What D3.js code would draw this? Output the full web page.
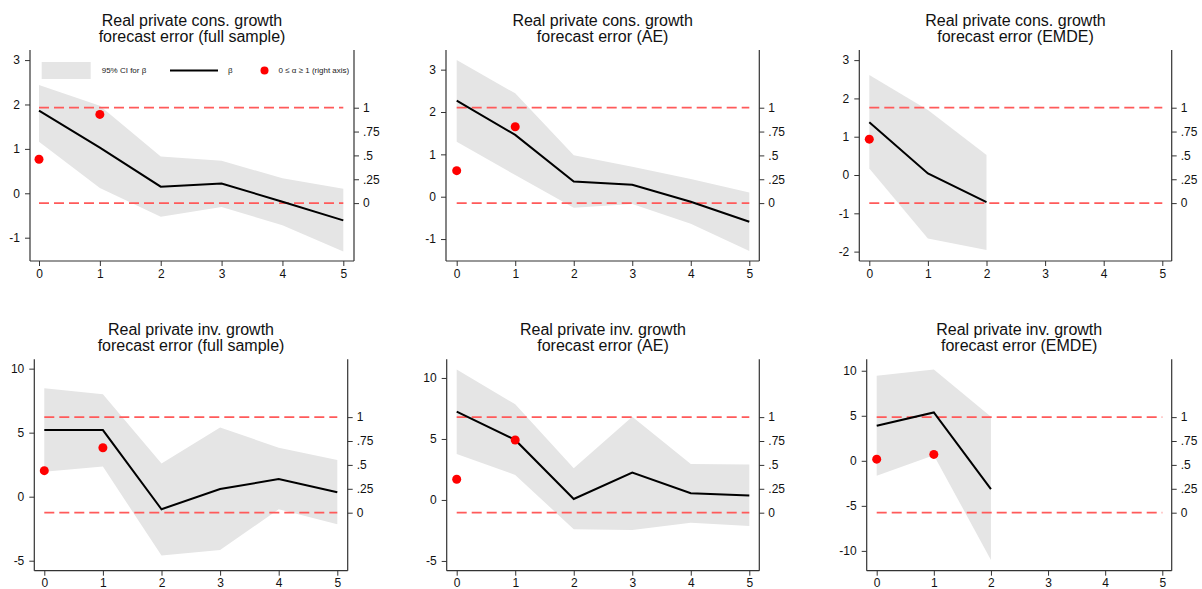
<!DOCTYPE html>
<html><head><meta charset="utf-8">
<script src="https://cdn.jsdelivr.net/npm/d3@7"></script>
<style>body{margin:0;background:#fff;}svg{display:block;font-family:"Liberation Sans",Arial,sans-serif;}</style>
</head><body>
<svg id="c" width="1202" height="589"></svg>
<script>
// ---- data ----
const horizons = [0,1,2,3,4,5];
const titles = [
  ["Real private cons. growth","forecast error (full sample)"],
  ["Real private cons. growth","forecast error (AE)"],
  ["Real private cons. growth","forecast error (EMDE)"],
  ["Real private inv. growth","forecast error (full sample)"],
  ["Real private inv. growth","forecast error (AE)"],
  ["Real private inv. growth","forecast error (EMDE)"]
];
// beta estimates
const consFullBeta = [1.86, 1.03, 0.15, 0.22, -0.19, -0.61];
const consAEBeta   = [2.27, 1.46, 0.36, 0.28, -0.12, -0.59];
const consEMDEBeta = [1.38, 0.04, -0.71];
const invFullBeta  = [5.21, 5.20, -0.98, 0.60, 1.38, 0.34];
const invAEBeta    = [7.24, 4.92, 0.08, 2.24, 0.55, 0.36];
const invEMDEBeta  = [3.89, 5.37, -3.15];
// 95% CI upper bounds
const consFullUpper = [2.44, 1.97, 0.83, 0.73, 0.34, 0.10];
const consAEUpper   = [3.23, 2.44, 0.98, 0.71, 0.42, 0.10];
const consEMDEUpper = [2.61, 1.70, 0.52];
const invFullUpper  = [8.47, 8.00, 2.60, 5.40, 3.83, 2.87];
const invAEUpper    = [10.7, 7.84, 2.60, 6.83, 2.95, 2.90];
const invEMDEUpper  = [9.44, 10.15, 4.89];
// 95% CI lower bounds
const consFullLower = [1.16, 0.12, -0.53, -0.31, -0.72, -1.31];
const consAELower   = [1.30, 0.51, -0.26, -0.17, -0.64, -1.28];
const consEMDELower = [0.17, -1.66, -1.96];
const invFullLower  = [1.95, 2.35, -4.60, -4.16, -0.98, -2.16];
const invAELower    = [3.77, 2.05, -2.40, -2.46, -1.86, -2.13];
const invEMDELower  = [-1.67, 0.63, -11.0];
// alpha (right axis)
const consFullAlpha = [0.46, 0.93];
const consAEAlpha   = [0.34, 0.80];
const consEMDEAlpha = [0.67];
const invFullAlpha  = [0.44, 0.68];
const invAEAlpha    = [0.35, 0.76];
const invEMDEAlpha  = [0.56, 0.61];
// tick values
const leftTicks = [[-1,0,1,2,3],[-1,0,1,2,3],[-2,-1,0,1,2,3],[-5,0,5,10],[-5,0,5,10],[-10,-5,0,5,10]];
const leftDomains = [[-1.525,3.227],[-1.518,3.464],[-2.245,3.264],[-5.78,10.73],[-5.80,11.53],[-12.2,11.27]];
const rightTicks = [0,0.25,0.5,0.75,1];
const rightTickLabels = ["0",".25",".5",".75","1"];
const rightDomain = [-0.607,1.605];
const refLines = [0,1];
const legendLabels = ["95% CI for β","β","0 ≤ α ≥ 1 (right axis)"];

const betas = [consFullBeta,consAEBeta,consEMDEBeta,invFullBeta,invAEBeta,invEMDEBeta];
const uppers = [consFullUpper,consAEUpper,consEMDEUpper,invFullUpper,invAEUpper,invEMDEUpper];
const lowers = [consFullLower,consAELower,consEMDELower,invFullLower,invAELower,invEMDELower];
const alphas = [consFullAlpha,consAEAlpha,consEMDEAlpha,invFullAlpha,invAEAlpha,invEMDEAlpha];

// ---- layout ----
const boxes = [
  {l:30, r:354, x0:39, x5:343.3, t:50, b:261},
  {l:446, r:759.3, x0:456.7, x5:749.3, t:50, b:261},
  {l:859.3, r:1171.7, x0:869.3, x5:1162.3, t:50, b:261},
  {l:34.3, r:347.7, x0:44.3, x5:337.3, t:359.3, b:570.7},
  {l:446.7, r:759.3, x0:456.7, x5:749.3, t:359.3, b:570.7},
  {l:866.7, r:1171.7, x0:876.7, x5:1162.3, t:359.3, b:570.7}
];

const svg = d3.select("#c");
const axisColor = "#333";
const fmtInt = d => String(d);

boxes.forEach((bx, i) => {
  const g = svg.append("g");
  const x = d3.scaleLinear().domain([0,5]).range([bx.x0, bx.x5]);
  const y = d3.scaleLinear().domain(leftDomains[i]).range([bx.b, bx.t]);
  const yr = d3.scaleLinear().domain(rightDomain).range([bx.b, bx.t]);
  const n = betas[i].length;
  const pts = d3.range(n).map(k => ({h:horizons[k], b:betas[i][k], u:uppers[i][k], lo:lowers[i][k]}));

  // CI area
  g.append("path").datum(pts)
    .attr("d", d3.area().x(d=>x(d.h)).y0(d=>y(d.lo)).y1(d=>y(d.u)))
    .attr("fill","#e5e5e5");

  // reference lines on right axis
  g.selectAll(".ref").data(refLines).enter().append("line")
    .attr("x1", x(0)).attr("x2", x(5))
    .attr("y1", d=>yr(d)).attr("y2", d=>yr(d))
    .attr("stroke","#ff5a5a").attr("stroke-width",1.8)
    .attr("stroke-dasharray","10,5");

  // beta line
  g.append("path").datum(pts)
    .attr("d", d3.line().x(d=>x(d.h)).y(d=>y(d.b)))
    .attr("fill","none").attr("stroke","#000").attr("stroke-width",2);

  // alpha dots
  g.selectAll(".dot").data(alphas[i]).enter().append("circle")
    .attr("cx",(d,k)=>x(horizons[k])).attr("cy",d=>yr(d)).attr("r",4.5)
    .attr("fill","#ff0000");

  // axes
  const ax = g.append("g").attr("transform",`translate(${bx.l},0)`)
    .call(d3.axisLeft(y).tickValues(leftTicks[i]).tickSize(5).tickPadding(5).tickFormat(fmtInt));
  const axr = g.append("g").attr("transform",`translate(${bx.r},0)`)
    .call(d3.axisRight(yr).tickValues(rightTicks).tickSize(5).tickPadding(4).tickFormat((d,k)=>rightTickLabels[k]));
  const axb = g.append("g").attr("transform",`translate(0,${bx.b})`)
    .call(d3.axisBottom(x).tickValues(horizons).tickSize(5).tickPadding(3).tickFormat(fmtInt));
  [ax,axr,axb].forEach(a=>{
    a.select(".domain").remove();
    a.selectAll(".tick line").attr("stroke",axisColor);
    a.selectAll(".tick text").attr("fill","#111").style("font-size","12px").style("font-family",'"Liberation Sans",Arial,sans-serif');
  });
  g.append("line").attr("x1",bx.l).attr("x2",bx.l).attr("y1",bx.t).attr("y2",bx.b).attr("stroke",axisColor).attr("stroke-width",1.2);
  g.append("line").attr("x1",bx.r).attr("x2",bx.r).attr("y1",bx.t).attr("y2",bx.b).attr("stroke",axisColor).attr("stroke-width",1.2);
  g.append("line").attr("x1",bx.l).attr("x2",bx.r).attr("y1",bx.b).attr("y2",bx.b).attr("stroke",axisColor).attr("stroke-width",1.2);

  // title
  const cx = (bx.l+bx.r)/2;
  const t = g.append("text").attr("text-anchor","middle").attr("fill","#111").style("font-size","16px");
  t.append("tspan").attr("x",cx).attr("y",bx.t-24).text(titles[i][0]);
  t.append("tspan").attr("x",cx).attr("y",bx.t-8.5).text(titles[i][1]);

  // legend in first panel
  if (i===0) {
    const lg = g.append("g").style("font-size","8px").attr("fill","#222");
    lg.append("rect").attr("x",41.7).attr("y",62).attr("width",49).attr("height",17).attr("fill","#e5e5e5");
    lg.append("text").attr("x",101.7).attr("y",73).text(legendLabels[0]);
    lg.append("line").attr("x1",170).attr("x2",218).attr("y1",70.5).attr("y2",70.5).attr("stroke","#000").attr("stroke-width",2);
    lg.append("text").attr("x",228).attr("y",73).text(legendLabels[1]);
    lg.append("circle").attr("cx",264.5).attr("cy",70.5).attr("r",4).attr("fill","#ff0000");
    lg.append("text").attr("x",278.5).attr("y",73).text(legendLabels[2]);
  }
});
</script>
</body></html>
